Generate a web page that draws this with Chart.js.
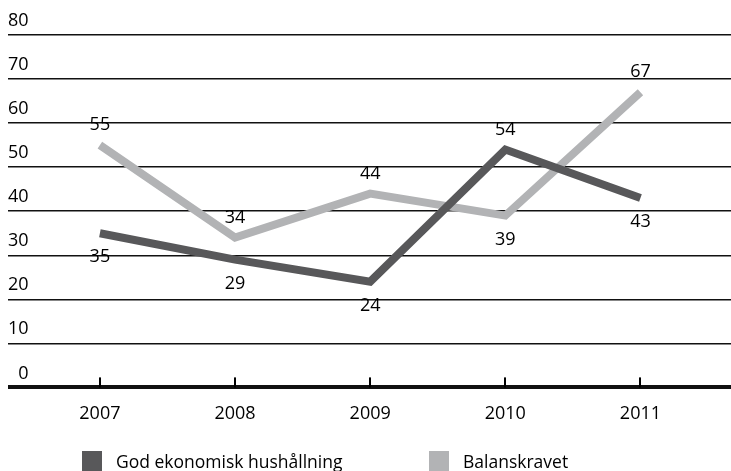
<!DOCTYPE html>
<html>
<head>
<meta charset="utf-8">
<script src="https://cdn.jsdelivr.net/npm/chart.js@4/dist/chart.umd.min.js"></script>
<style>
  html, body { margin: 0; padding: 0; background: #fff; }
  #wrap { position: relative; width: 731px; height: 471px; overflow: hidden; }
  #c { position: absolute; left: 0; top: 0; }
  .key { position: absolute; top: 450px; height: 22px; display: flex; align-items: center;
         font: 17.5px "Open Sans", sans-serif; color: #000; white-space: nowrap; }
  .key i { display: inline-block; width: 20px; height: 20px; margin-right: 14px; }
</style>
</head>
<body>
<div id="wrap">
  <canvas id="c" width="731" height="471"></canvas>
</div>
<script>
// Years on the horizontal axis
const years = [2007, 2008, 2009, 2010, 2011];
// Share (%) per year for each series
const godEkonomiskHushallning = [35, 29, 24, 54, 43];
const balanskravet = [55, 34, 44, 39, 67];
// Gridline values on the vertical axis
const yTicks = [0, 10, 20, 30, 40, 50, 60, 70, 80];

const seriesNames = ['God ekonomisk hushållning', 'Balanskravet'];
const seriesColors = ['#58585a', '#b2b3b5'];
const FONT = '"Open Sans", sans-serif';

// Value labels: the higher series of each year is labelled above its line, the lower one below
const pointLabels = {
  id: 'pointLabels',
  afterDatasetsDraw(chart) {
    const ctx = chart.ctx;
    const sets = chart.data.datasets;
    ctx.save();
    ctx.font = '18px ' + FONT;
    ctx.fillStyle = '#000';
    ctx.textAlign = 'center';
    ctx.textBaseline = 'middle';
    sets.forEach((ds, di) => {
      chart.getDatasetMeta(di).data.forEach((pt, i) => {
        const v = ds.data[i].y;
        const above = sets.every((o, k) => k === di || v >= o.data[i].y);
        ctx.fillText(String(v), pt.x, pt.y + (above ? -20 : 24));
      });
    });
    ctx.restore();
  }
};

// Short upward tick marks on the zero line at each year
const baseTicks = {
  id: 'baseTicks',
  afterDraw(chart) {
    const ctx = chart.ctx;
    const xs = chart.scales.x, ys = chart.scales.y;
    const y0 = ys.getPixelForValue(0);
    ctx.save();
    ctx.fillStyle = '#000';
    years.forEach(yr => {
      const px = Math.round(xs.getPixelForValue(yr));
      ctx.fillRect(px - 1, y0 - 10, 2, 10);
    });
    ctx.restore();
  }
};

const chart = new Chart(document.getElementById('c'), {
  type: 'line',
  data: {
    datasets: [
      { label: seriesNames[0], data: years.map((x, i) => ({ x, y: godEkonomiskHushallning[i] })),
        borderColor: seriesColors[0], backgroundColor: seriesColors[0] },
      { label: seriesNames[1], data: years.map((x, i) => ({ x, y: balanskravet[i] })),
        borderColor: seriesColors[1], backgroundColor: seriesColors[1] }
    ]
  },
  options: {
    responsive: false,
    animation: false,
    layout: { padding: { left: 8, right: 0, top: 35, bottom: 30 } },
    plugins: { legend: { display: false }, tooltip: { enabled: false } },
    elements: {
      point: { radius: 0 },
      line: { tension: 0, borderWidth: 8, borderJoinStyle: 'miter', borderCapStyle: 'butt' }
    },
    scales: {
      x: {
        type: 'linear',
        min: 2006.32,
        max: 2011.67,
        afterBuildTicks: s => { s.ticks = years.map(v => ({ value: v })); },
        grid: { display: false, drawTicks: false },
        border: { display: false },
        ticks: { padding: 16, color: '#000', font: { family: FONT, size: 18 }, callback: v => String(v) }
      },
      y: {
        min: 0,
        max: 80,
        afterBuildTicks: s => { s.ticks = yTicks.map(v => ({ value: v })); },
        grid: { color: '#111', lineWidth: c => (c.tick && c.tick.value === 0 ? 4 : 1.5), drawTicks: false },
        border: { display: false },
        ticks: { mirror: true, crossAlign: 'far', padding: 0, labelOffset: -14, color: '#000',
                 font: { family: FONT, size: 18 }, callback: v => String(v) }
      }
    }
  },
  plugins: [pointLabels, baseTicks]
});

// Legend below the chart, built from the datasets
const keyLeft = [82, 429];
chart.data.datasets.forEach((ds, i) => {
  const el = document.createElement('div');
  el.className = 'key';
  el.style.left = keyLeft[i] + 'px';
  const sw = document.createElement('i');
  sw.style.background = ds.backgroundColor;
  el.appendChild(sw);
  el.appendChild(document.createTextNode(ds.label));
  document.getElementById('wrap').appendChild(el);
});
</script>
</body>
</html>
